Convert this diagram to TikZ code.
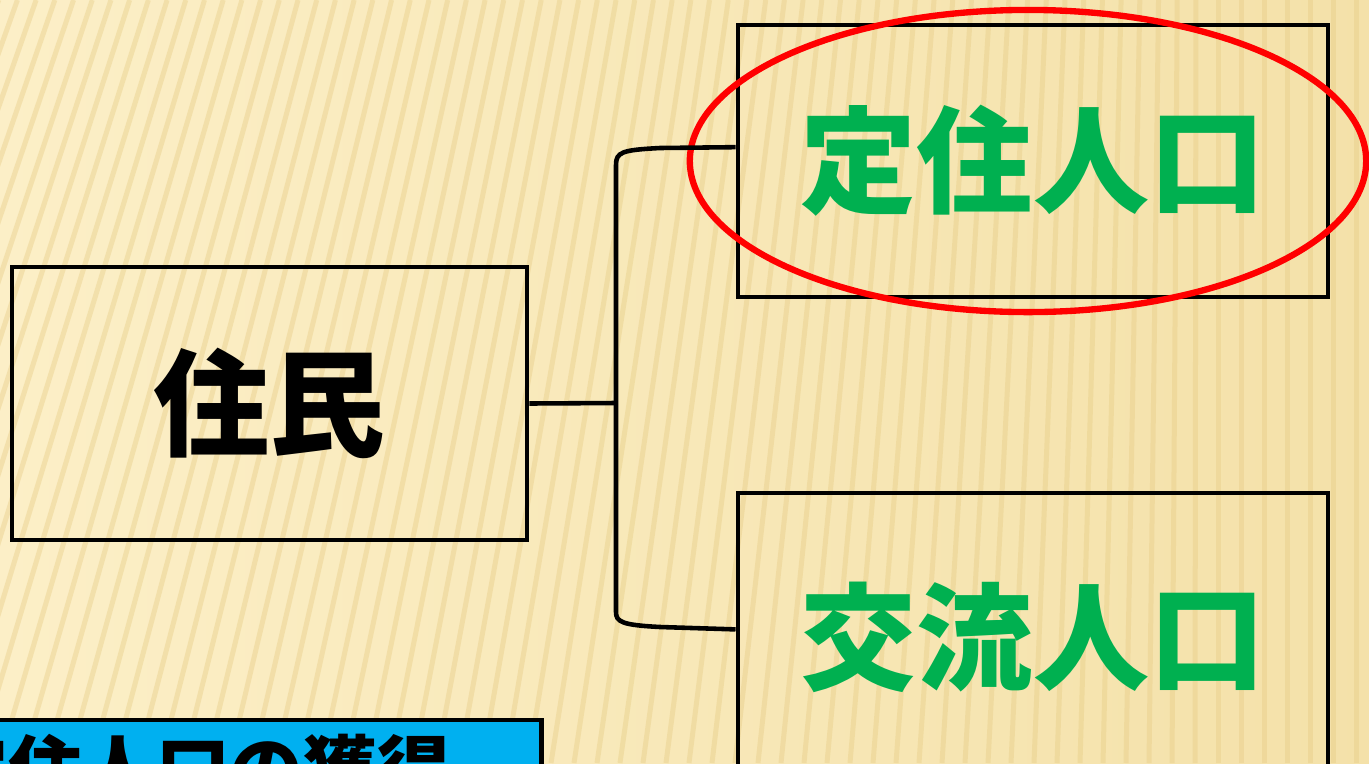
\documentclass[tikz,border=0pt]{standalone}
\usepackage{fontspec}
\newfontfamily\jp{Noto Sans CJK JP}
\usetikzlibrary{calc,shapes.geometric}
\definecolor{cream}{HTML}{FCEFC7}
\definecolor{sand}{HTML}{F4E1A9}
\definecolor{ridge}{HTML}{E6CB84}
\definecolor{grn}{HTML}{00B050}
\definecolor{sky}{HTML}{00B0F0}

\begin{document}
\begin{tikzpicture}[x=0.01cm,y=-0.01cm,
 box/.style={draw,line width=1.3pt,minimum width=5.9cm,minimum height=2.72cm,
 inner sep=0pt,font=\jp\bfseries\fontsize{33}{40}\selectfont,text=grn},
 conn/.style={line width=1.3pt},
 ring/.style={draw=red,line width=1.8pt,ellipse,inner sep=0pt},
 stripe/.style={ridge,line width=0.05cm,opacity=0.4}]
\useasboundingbox (0,0) rectangle (1369,763);
\clip (0,0) rectangle (1369,763);
\shade[left color=cream,right color=sand] (0,0) rectangle (1369,763);
\foreach \b in {-300,-277,...,1400}{
 \pgfmathsetmacro\s{max(0,280*(1-(\b+300)/1500))}
 \draw[stripe] (\b,763) -- (\b+\s,0);
}
\node[box,text=black,minimum width=5.15cm,minimum height=2.73cm] (jumin) at (269.5,403.5) {住民};
\node[box] (teiju) at (1033,161) {定住人口};
\node[box,minimum height=2.88cm] (koryu) at (1033,637) {交流人口};
\node[ring,minimum width=6.76cm,minimum height=3.02cm] (mark) at (1028,161) {};
\coordinate (hub) at (616,403);
\draw[conn] (jumin.east) -- (hub);
\draw[conn] ($(teiju.north west)!0.45!(teiju.south west)$) -- (660,148)
 .. controls (622,150) and (616,152) .. (616,165) -- (616,612)
 .. controls (616,622) and (622,625) .. (660,627)
 -- ($(koryu.north west)!0.474!(koryu.south west)$);
\node[draw,fill=sky,line width=1.3pt,minimum width=7.46cm,minimum height=1cm,inner sep=0pt,
 font=\jp\bfseries\fontsize{21}{24}\selectfont] (goal) at (168,770) {\hspace{0.5cm}定住人口の獲得};
\end{tikzpicture}
\end{document}
